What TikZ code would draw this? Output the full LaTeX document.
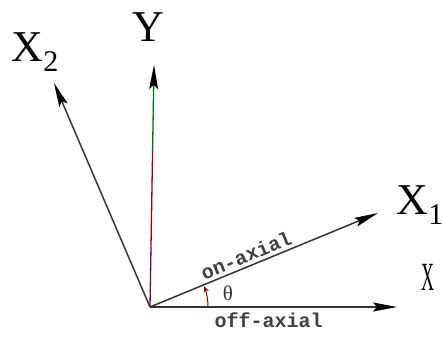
\documentclass[tikz,border=0pt]{standalone}
\usepackage{fontspec}
\setmainfont{Liberation Serif}
\newfontfamily\axialfont{Liberation Mono}
\usetikzlibrary{arrows.meta, positioning, calc}

\newcommand{\lowidx}[1]{\raisebox{-0.22em}{\fontsize{30}{30}\selectfont #1}}

\begin{document}
\begin{tikzpicture}[
    x=1pt, y=1pt,
    axis/.style={line width=1.5pt, draw=black!80, -{Stealth[length=24pt, width=9pt, inset=4pt, color=black]}},
    axlabel/.style={inner sep=0pt, font=\fontsize{44}{44}\selectfont},
    axial/.style={font=\fontsize{20}{20}\axialfont\bfseries, text=black!75, inner sep=3pt},
    anglearc/.style={line width=1pt, draw=red!50!black, -{Stealth[length=6pt, width=5pt]}}
]
    \useasboundingbox (-150,-38) rectangle (293,307);

    % Origin and axis tips
    \coordinate (O) at (0,0);
    \coordinate (Xoff) at (247,0);
    \coordinate (X1tip) at (228,94);
    \coordinate (Ytip) at (4,242);
    \coordinate (X2tip) at (-96,224);
    \coordinate (Ya) at ($(O)!0.25!(Ytip)$);
    \coordinate (Yb) at ($(O)!0.65!(Ytip)$);

    % Axes
    \draw [axis] (O) -- (Xoff) node [axial, pos=0.48, below=2pt] {off-axial};
    \draw [axis] (O) -- (X1tip) node [axial, pos=0.44, sloped, above] {on-axial};
    \draw [axis] (O) -- (X2tip);
    \draw [line width=1.3pt, draw=violet!80!black] (O) -- (Ya);
    \draw [line width=1.3pt, draw=red!60!black] (Ya) -- (Yb);
    \draw [axis, line width=1.3pt, draw=green!45!black] (Yb) -- (Ytip);

    % Angle
    \draw [anglearc] (58,0) arc [start angle=0, end angle=21, radius=58];
    \node (theta) at (78,14) [font=\fontsize{21}{21}\selectfont, text=black!80] {θ};

    % Axis labels
    \node (Y) at (-2,280) [axlabel] {Y};
    \node (X2) at (-115,255) [axlabel] {X\lowidx{2}};
    \node (X1) at (270,102) [axlabel] {X\lowidx{1}};
    \node (X) at (278,30) [axlabel, xscale=0.45, font=\fontsize{40}{40}\selectfont] {X};
\end{tikzpicture}
\end{document}
